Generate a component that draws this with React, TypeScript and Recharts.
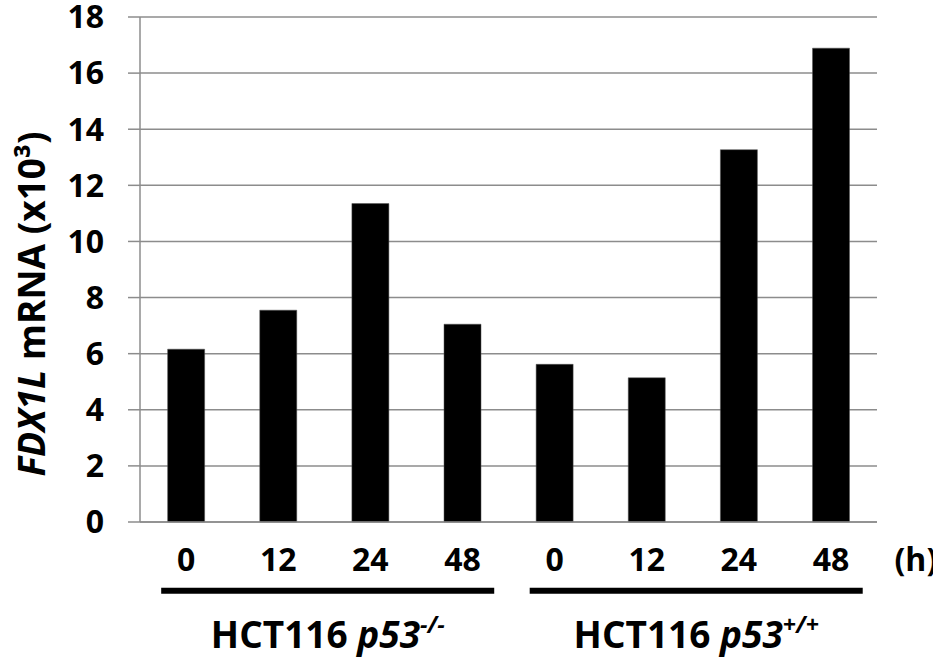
import React from 'react';
import { BarChart, Bar, XAxis, YAxis, CartesianGrid } from 'recharts';

// Time points (hours) for each cell line, shown left to right
const hours = ['0', '12', '24', '48', '0', '12', '24', '48'];
// Cell line groups: plain name, italic gene, superscript genotype
const groupNames = ['HCT116', 'HCT116'];
const groupGenes = ['p53', 'p53'];
const groupGenotypes = ['-/-', '+/+'];
// FDX1L mRNA levels (x10^3)
const knockoutValues = [6.16, 7.55, 11.35, 7.05];
const wildTypeValues = [5.62, 5.14, 13.27, 16.89];
const yTicks = [0, 2, 4, 6, 8, 10, 12, 14, 16, 18];

const data = [...knockoutValues, ...wildTypeValues].map((value, i) => ({
  key: `g${Math.floor(i / 4)}-${hours[i]}`,
  hour: hours[i],
  group: Math.floor(i / 4),
  value,
}));

const FONT = '"Open Sans", "DejaVu Sans", sans-serif';
const GRID = '#8c8c8c';

const HourTick = (props: any) => {
  const { x, y, index, width, visibleTicksCount } = props;
  const band = width / visibleTicksCount;
  const perGroup = 4;
  const isGroupStart = index % perGroup === 0;
  const isLast = index === visibleTicksCount - 1;
  const g = Math.floor(index / perGroup);
  const lineStart = x - 0.27 * band;
  const lineEnd = x + (perGroup - 1) * band + 0.345 * band;
  const mid = (lineStart + lineEnd) / 2;
  return (
    <g fontFamily={FONT} fontWeight={700} fill="#000">
      <text x={x} y={y + 48.5} textAnchor="middle" fontSize={32}>
        {hours[index]}
      </text>
      {isLast && (
        <text x={x + 0.69 * band} y={y + 48.5} textAnchor="start" fontSize={32}>
          (h)
        </text>
      )}
      {isGroupStart && (
        <g>
          <line x1={lineStart} x2={lineEnd} y1={y + 68.7} y2={y + 68.7} stroke="#000" strokeWidth={6} />
          <text x={mid} y={y + 126} textAnchor="middle" fontSize={37}>
            <tspan>{groupNames[g]} </tspan>
            <tspan fontStyle="italic">{groupGenes[g]}</tspan>
            <tspan fontStyle="italic" fontSize={23} dy={-15}>{groupGenotypes[g]}</tspan>
          </text>
        </g>
      )}
    </g>
  );
};

const YTitle = () => (
  <text
    x={45}
    y={304}
    transform="rotate(-90, 45, 304)"
    textAnchor="middle"
    fontFamily={FONT}
    fontWeight={700}
    fontSize={37}
    fill="#000"
  >
    <tspan fontStyle="italic">FDX1L</tspan>
    <tspan> mRNA (x10³)</tspan>
  </text>
);

export default function App() {
  return (
    <div style={{ position: 'absolute', left: 0, top: 0, width: 933, height: 662, background: '#fff' }}>
      <BarChart
        width={933}
        height={662}
        data={data}
        margin={{ top: 17, right: 56, bottom: 0, left: 0 }}
        barCategoryGap="30%"
      >
        <CartesianGrid vertical={false} stroke={GRID} strokeWidth={1.5} />
        <XAxis
          dataKey="key"
          height={140}
          axisLine={{ stroke: GRID, strokeWidth: 1.5 }}
          tickLine={false}
          tickSize={0}
          tickMargin={0}
          interval={0}
          tick={<HourTick />}
        />
        <YAxis
          width={140}
          domain={[0, 18]}
          ticks={yTicks}
          interval={0}
          axisLine={{ stroke: GRID, strokeWidth: 1.5 }}
          tickLine={{ stroke: GRID, strokeWidth: 1.5 }}
          tickSize={12}
          tickMargin={24}
          tick={{ fill: '#000', fontSize: 32, fontWeight: 700, fontFamily: FONT }}
          label={{ content: () => <YTitle /> }}
        />
        <Bar dataKey="value" fill="#000" stroke="#555" strokeWidth={0.5} isAnimationActive={false} />
      </BarChart>
    </div>
  );
}
